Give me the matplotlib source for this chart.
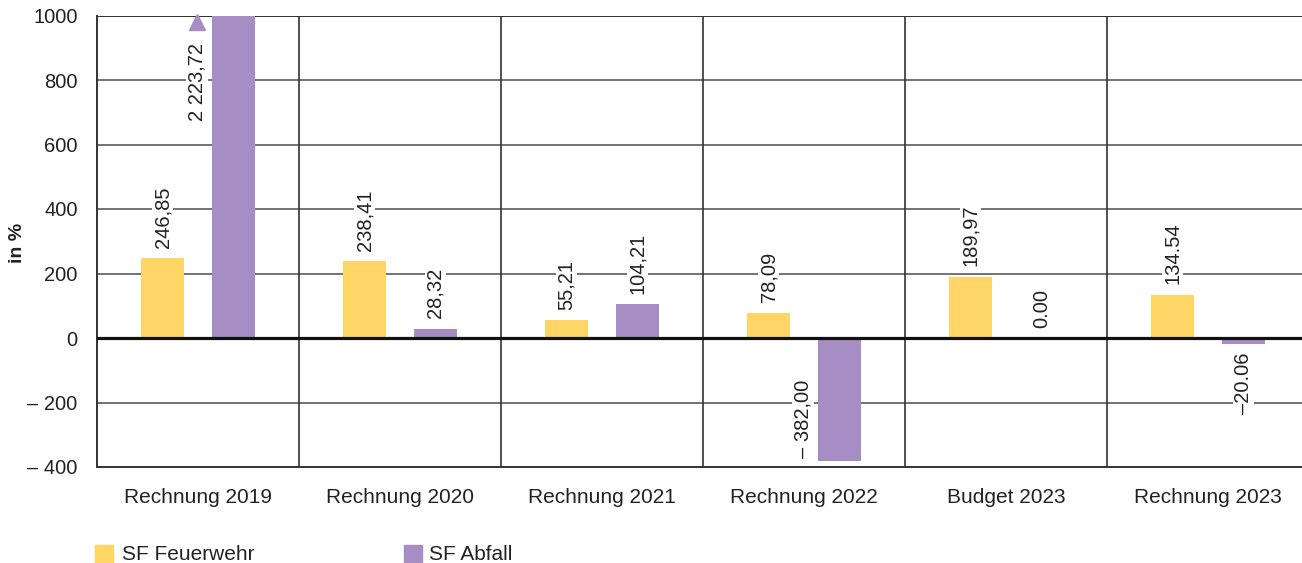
import matplotlib
matplotlib.use("Agg")
import matplotlib.pyplot as plt
from matplotlib.patches import Rectangle

plt.rcParams["font.family"] = ["Liberation Sans", "DejaVu Sans"]

# data
categories = ["Rechnung 2019", "Rechnung 2020", "Rechnung 2021",
              "Rechnung 2022", "Budget 2023", "Rechnung 2023"]
feuerwehr = [246.85, 238.41, 55.21, 78.09, 189.97, 134.54]
abfall = [2223.72, 28.32, 104.21, -382.00, 0.00, -20.06]
feuerwehr_labels = ["246,85", "238,41", "55,21", "78,09", "189,97", "134.54"]
abfall_labels = ["2 223,72", "28,32", "104,21", "\u2013 382,00", "0.00", "\u201320.06"]
yticks = [-400, -200, 0, 200, 400, 600, 800, 1000]
ytick_labels = ["\u2013 400", "\u2013 200", "0", "200", "400", "600", "800", "1000"]

YELLOW = "#FFD666"
PURPLE = "#A68EC5"
TXT = "#222222"
YMIN, YMAX = -400, 1000

fig = plt.figure(figsize=(13.02, 5.63), dpi=100)
ax = fig.add_axes([97 / 1302, 96 / 563, 1205 / 1302, 451.5 / 563])

x = list(range(len(categories)))
off = 0.1757
w = 0.213
xf = [i - off for i in x]
xa = [i + off for i in x]

ax.bar(xf, feuerwehr, width=w, color=YELLOW, zorder=3)
ax.bar(xa, abfall, width=w, color=PURPLE, zorder=3)

ax.set_xlim(-0.5, -0.5 + 1205 / 202)
ax.set_ylim(YMIN, YMAX)

# grid
for yv in yticks:
    if yv in (YMIN, 0):
        continue
    ax.axhline(yv, color="#5a5a5a", lw=1.2, zorder=1)
for i in range(1, len(categories)):
    ax.axvline(i - 0.5, color="#333333", lw=1.2, zorder=1)
ax.axhline(0, color="#111111", lw=2.3, zorder=4)

for s in ["top", "right"]:
    ax.spines[s].set_visible(False)
for s in ["left", "bottom"]:
    ax.spines[s].set_color("#333333")
    ax.spines[s].set_linewidth(1.4)
ax.axhline(YMAX, color="#333333", lw=1.4, zorder=1)

ax.set_yticks(yticks)
ax.set_yticklabels(ytick_labels)
ax.set_xticks(x)
ax.set_xticklabels(categories)
ax.tick_params(axis="y", length=0, pad=14, labelsize=14.5, labelcolor=TXT)
ax.tick_params(axis="x", length=0, pad=15, labelsize=15, labelcolor=TXT)
fig.text(18 / 1302, 1 - 243 / 563, "in %", rotation=90, fontsize=14,
         fontweight="bold", color=TXT, ha="center", va="center")

box = dict(facecolor="white", edgecolor="none", pad=1.0)
kw = dict(rotation=90, fontsize=14.5, color=TXT, bbox=box, zorder=5,
          textcoords="offset points", annotation_clip=False)

for xi, v, lab in zip(xf, feuerwehr, feuerwehr_labels):
    ax.annotate(lab, (xi, v), xytext=(0, 7.5), ha="center", va="bottom", **kw)

for xi, v, lab in zip(xa, abfall, abfall_labels):
    if v > YMAX:
        # clipped bar: arrow marker and label left of the bar
        ax.plot(xi - w / 2 - 0.0745, YMAX - 20, marker="^", ms=11,
                color=PURPLE, zorder=5, clip_on=False)
        ax.annotate(lab, (xi - w / 2, YMAX - 85), xytext=(-4, 0),
                    ha="right", va="top", **kw)
    elif v - 100 < YMIN:
        ax.annotate(lab, (xi - w / 2, v), xytext=(-4, 2),
                    ha="right", va="bottom", **kw)
    elif v < 0:
        ax.annotate(lab, (xi, v), xytext=(0, -6), ha="center", va="top", **kw)
    else:
        ax.annotate(lab, (xi, v), xytext=(0, 7.5), ha="center", va="bottom", **kw)

# legend
fig.patches.append(Rectangle((95 / 1302, 0 / 563), 18 / 1302, 18 / 563,
                             transform=fig.transFigure, color=YELLOW))
fig.text(122 / 1302, 8 / 563, "SF Feuerwehr", fontsize=15, color=TXT, va="center")
fig.patches.append(Rectangle((404 / 1302, 0 / 563), 18 / 1302, 18 / 563,
                             transform=fig.transFigure, color=PURPLE))
fig.text(429 / 1302, 8 / 563, "SF Abfall", fontsize=15, color=TXT, va="center")

fig.savefig("out.png", dpi=100)
